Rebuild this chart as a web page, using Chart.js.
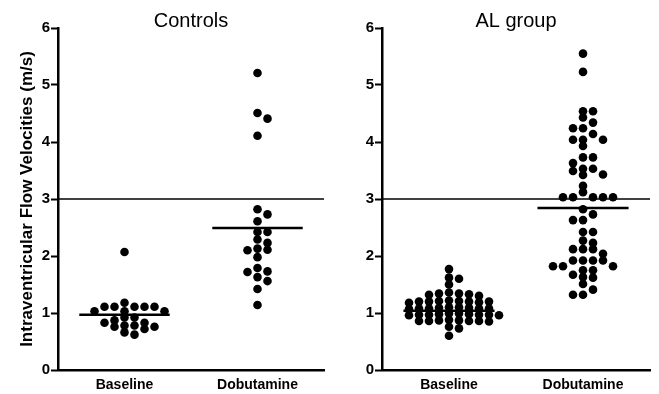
<!DOCTYPE html>
<html><head><meta charset="utf-8">
<script src="https://cdn.jsdelivr.net/npm/chart.js@4.4.0/dist/chart.umd.min.js"></script>
<style>
html,body{margin:0;padding:0;background:#fff;}
#wrap{position:relative;width:659px;height:394px;overflow:hidden;}
#c1{position:absolute;left:0;top:0;width:330px;height:394px;}
#c2{position:absolute;left:330px;top:0;width:329px;height:394px;}
</style></head><body>
<div id="wrap"><canvas id="c1" width="330" height="394"></canvas><canvas id="c2" width="329" height="394"></canvas></div>
<script>
// ---- data ----
const categories = ['Baseline', 'Dobutamine'];
const panelTitles = ['Controls', 'AL group'];
const yTicks = [0, 1, 2, 3, 4, 5, 6];
const yAxisTitle = 'Intraventricular Flow Velocities (m/s)';
const controlsBaseline = [2.07, 1.18, 1.11, 1.11, 1.11, 1.11, 1.11, 1.03, 1.03, 1.03, 0.92, 0.92, 0.87, 0.83, 0.83, 0.78, 0.78, 0.76, 0.76, 0.72, 0.66, 0.62];
const controlsDobutamine = [5.21, 4.51, 4.41, 4.11, 2.82, 2.73, 2.61, 2.42, 2.42, 2.29, 2.23, 2.13, 2.11, 2.10, 1.98, 1.79, 1.73, 1.72, 1.63, 1.56, 1.42, 1.14];
const alBaseline = [1.77, 1.62, 1.60, 1.50, 1.36, 1.34, 1.34, 1.33, 1.32, 1.30, 1.22, 1.21, 1.20, 1.20, 1.20, 1.19, 1.18, 1.20, 1.21, 1.10, 1.09, 1.08, 1.08, 1.08, 1.07, 1.10, 1.09, 1.08, 0.99, 0.98, 0.97, 0.97, 0.97, 0.96, 0.98, 0.97, 0.99, 0.96, 0.88, 0.87, 0.86, 0.86, 0.86, 0.85, 0.87, 0.86, 0.76, 0.73, 0.60];
const alDobutamine = [5.55, 5.23, 4.54, 4.54, 4.43, 4.34, 4.24, 4.24, 4.14, 4.04, 4.04, 4.04, 3.93, 3.73, 3.73, 3.63, 3.53, 3.53, 3.49, 3.43, 3.42, 3.23, 3.12, 3.03, 3.03, 3.03, 3.03, 3.03, 2.82, 2.73, 2.63, 2.63, 2.42, 2.42, 2.27, 2.23, 2.12, 2.12, 2.12, 2.04, 1.92, 1.92, 1.92, 1.92, 1.82, 1.82, 1.82, 1.75, 1.75, 1.67, 1.63, 1.62, 1.51, 1.41, 1.32, 1.32];
const controlsMeans = [0.97, 2.49];
const alMeans = [1.04, 2.84];
const thresholdValue = 3;

// ---- layout / style ----
const catPos = [0.25, 0.75];
Chart.defaults.font.family = '"Liberation Sans", Arial, Helvetica, sans-serif';
Chart.defaults.color = '#000';

function swarm(values, center, pxPerX, pxPerY) {
  const colStep = 10 / pxPerX;
  const minDy = 6 / pxPerY;
  const placed = [];
  const out = new Array(values.length);
  const order = values.map((v, i) => i).sort((a, b) => values[b] - values[a]);
  order.forEach(i => {
    const v = values[i];
    for (let k = 0; k < 50; k++) {
      const col = k === 0 ? 0 : (k % 2 ? Math.ceil(k / 2) : -k / 2);
      if (!placed.some(p => p.col === col && Math.abs(p.v - v) < minDy)) {
        placed.push({col, v});
        out[i] = {x: center + col * colStep, y: v};
        break;
      }
    }
  });
  return out;
}

function makePanel(canvas, title, base, dob, means, o) {
  const pxX = o.areaWidth, pxY = 342 / 6;
  const half = 0.17;
  const pts = (arr, c) => ({
    data: swarm(arr, catPos[c], pxX, pxY),
    pointRadius: 4.3, pointHoverRadius: 4.3,
    pointBackgroundColor: '#000', pointBorderWidth: 0, showLine: false
  });
  const seg = (x0, x1, y, w) => ({
    data: [{x: x0, y: y}, {x: x1, y: y}],
    showLine: true, borderColor: '#000', borderWidth: w, pointRadius: 0
  });
  new Chart(canvas, {
    type: 'scatter',
    data: {datasets: [
      seg(0, 1, thresholdValue, o.refWidth),
      seg(catPos[0] - half, catPos[0] + half, means[0], 2.5),
      seg(catPos[1] - half, catPos[1] + half, means[1], 2.5),
      pts(base, 0),
      pts(dob, 1)
    ]},
    options: {
      responsive: false, animation: false,
      layout: {padding: {left: 0, right: o.padRight, top: 0, bottom: 0}},
      plugins: {
        legend: {display: false}, tooltip: {enabled: false},
        title: {display: true, text: title, fullSize: false, color: '#000',
          font: {size: 20, weight: 'normal', lineHeight: 1},
          padding: {top: 11, bottom: -3}}
      },
      scales: {
        x: {
          type: 'linear', min: 0, max: 1,
          afterBuildTicks: s => { s.ticks = catPos.map(v => ({value: v})); },
          ticks: {callback: v => categories[catPos.indexOf(v)], color: '#000',
            font: {size: 14, weight: 'bold'}, padding: 7, autoSkip: false, maxRotation: 0},
          grid: {display: false, drawTicks: false},
          border: {display: true, color: '#000', width: 2.5},
          afterFit: s => { s.height = 24; }
        },
        y: {
          min: 0, max: 6,
          afterBuildTicks: s => { s.ticks = yTicks.map(v => ({value: v})); },
          ticks: {color: '#000', font: {size: 15, weight: 'bold'}, padding: 1},
          grid: {display: true, drawOnChartArea: false, drawTicks: true, tickLength: 7, tickWidth: 2, color: '#000'},
          border: {display: true, color: '#000', width: 2.5},
          title: {display: o.showTitle, text: yAxisTitle, color: '#000',
            font: {size: 17, weight: 'bold'}, padding: {top: 17, bottom: 0}},
          afterFit: s => { s.width = o.axisWidth; }
        }
      }
    }
  });
}

makePanel(document.getElementById('c1'), panelTitles[0], controlsBaseline, controlsDobutamine, controlsMeans,
  {axisWidth: 58, padRight: 6, areaWidth: 266, refWidth: 1.6, showTitle: true});
makePanel(document.getElementById('c2'), panelTitles[1], alBaseline, alDobutamine, alMeans,
  {axisWidth: 52, padRight: 9, areaWidth: 268, refWidth: 1.3, showTitle: false});
</script>
</body></html>
